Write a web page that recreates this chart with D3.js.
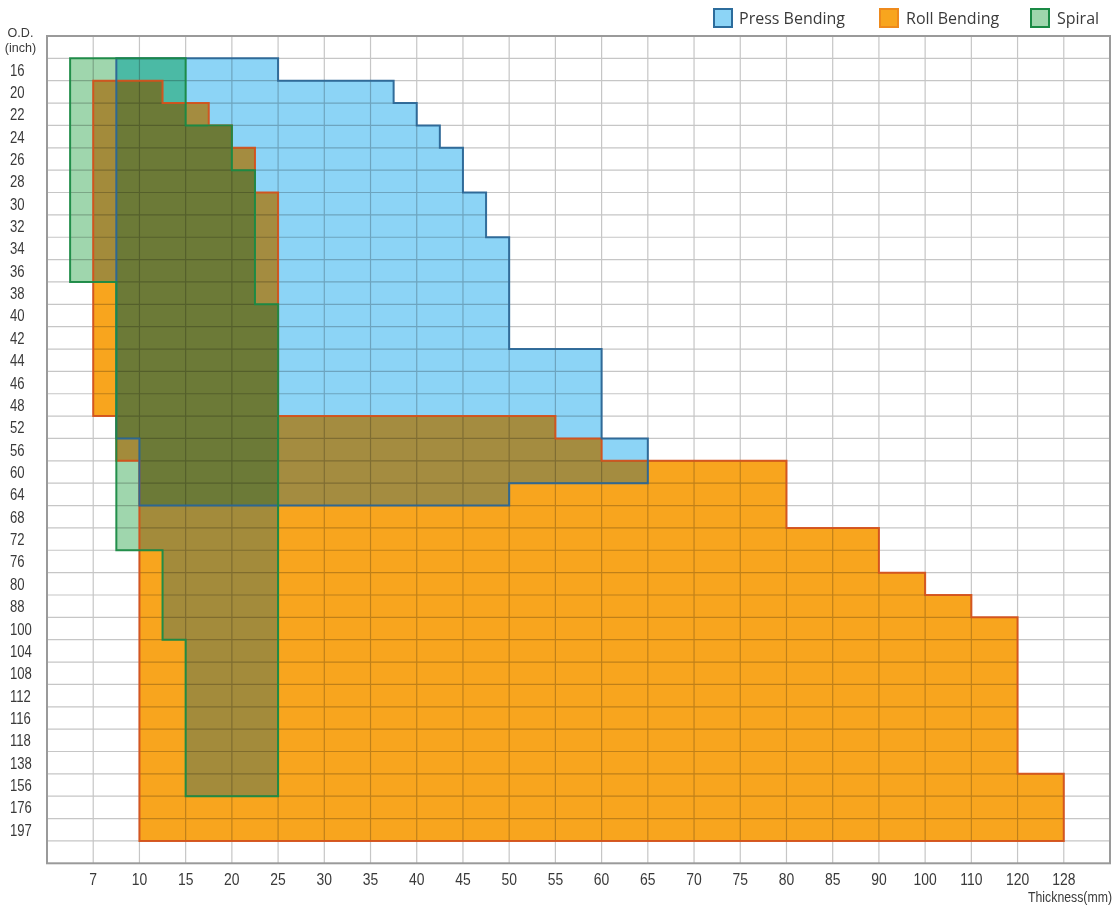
<!DOCTYPE html>
<html><head><meta charset="utf-8">
<script src="https://cdn.jsdelivr.net/npm/d3@7/dist/d3.min.js"></script>
<style>
body{margin:0;background:#fff}
svg{display:block}
.gridl{mix-blend-mode:multiply}
.ax{font-family:"Liberation Sans",Arial,sans-serif;fill:#3a3a3a}
.lg{font-family:"Open Sans",sans-serif;fill:#3a3a3a;font-size:16px}
</style></head><body>
<svg id="c" width="1119" height="906"></svg>
<script>
// ---- data ----
const odLabels = ["16","20","22","24","26","28","30","32","34","36","38","40","42","44","46","48","52","56","60","64","68","72","76","80","88","100","104","108","112","116","118","138","156","176","197"];
const thicknessTicks = [7,10,15,20,25,30,35,40,45,50,55,60,65,70,75,80,85,90,100,110,120,128];
const seriesNames = ["Press Bending","Roll Bending","Spiral"];
// [O.D., min thickness, max thickness]
const pressBending = [
  ["16",8.5,25],["20",8.5,37.5],["22",8.5,40],["24",8.5,42.5],["26",8.5,45],["28",8.5,45],
  ["30",8.5,47.5],["32",8.5,47.5],["34",8.5,50],["36",8.5,50],["38",8.5,50],["40",8.5,50],
  ["42",8.5,50],["44",8.5,60],["46",8.5,60],["48",8.5,60],["52",8.5,60],["56",10,65],
  ["60",10,65],["64",10,50]
];
const rollBending = [
  ["20",7,12.5],["22",7,17.5],["24",7,20],["26",7,22.5],["28",7,22.5],["30",7,25],["32",7,25],
  ["34",7,25],["36",7,25],["38",7,25],["40",7,25],["42",7,25],["44",7,25],["46",7,25],["48",7,25],
  ["52",8.5,55],["56",8.5,60],["60",10,80],["64",10,80],["68",10,80],["72",10,90],["76",10,90],
  ["80",10,100],["88",10,110],["100",10,120],["104",10,120],["108",10,120],["112",10,120],
  ["116",10,120],["118",10,120],["138",10,120],["156",10,128],["176",10,128],["197",10,128]
];
const spiral = [
  ["16",5.5,15],["20",5.5,15],["22",5.5,15],["24",5.5,20],["26",5.5,20],["28",5.5,22.5],
  ["30",5.5,22.5],["32",5.5,22.5],["34",5.5,22.5],["36",5.5,22.5],["38",8.5,22.5],["40",8.5,25],
  ["42",8.5,25],["44",8.5,25],["46",8.5,25],["48",8.5,25],["52",8.5,25],["56",8.5,25],["60",8.5,25],
  ["64",8.5,25],["68",8.5,25],["72",8.5,25],["76",12.5,25],["80",12.5,25],["88",12.5,25],
  ["100",12.5,25],["104",15,25],["108",15,25],["112",15,25],["116",15,25],["118",15,25],
  ["138",15,25],["156",15,25]
];
const fills = ["#8cd4f6","#f8a51e","#9fd6ad"];
const strokes = ["#2a6696","#d4521c","#1a8a45"];
const legendStrokes = ["#2c6c9c","#ee8a1c","#1a8a45"];
const overlapFills = {pressRoll:"#a48c40", rollSpiral:"#a38b3b", pressSpiral:"#4bbaa5", all:"#6c7a37"};

// ---- layout ----
const L=47, R=1110, T=36, B=863.3;
const xDomain=[4].concat(thicknessTicks,[136]);
const colW=(R-L)/(xDomain.length-1);
const x=d3.scaleLinear().domain(xDomain).range(xDomain.map((d,i)=>L+i*colW));
const rowH=(B-T)/(odLabels.length+2);
const y=d3.scaleBand().domain(odLabels).range([T+rowH,B-rowH]).padding(0);
const bw=y.bandwidth();

const svg=d3.select("#c");
const g=svg.append("g");

// helpers
function runs(rows){
  const out=[];let cur=[];let prev=-2;
  rows.forEach(r=>{const i=odLabels.indexOf(r[0]);if(i!==prev+1&&cur.length){out.push(cur);cur=[];}cur.push(r);prev=i;});
  if(cur.length)out.push(cur);
  return out;
}
function outline(rows){
  const pts=[];
  rows.forEach(r=>{const y0=y(r[0]);pts.push([x(r[2]),y0],[x(r[2]),y0+bw]);});
  for(let i=rows.length-1;i>=0;i--){const r=rows[i];const y0=y(r[0]);pts.push([x(r[1]),y0+bw],[x(r[1]),y0]);}
  return d3.line()(pts)+"Z";
}
function pathOf(rows){return runs(rows).map(outline).join("");}
function intersect(a,b){
  const mb=new Map(b.map(r=>[r[0],r]));const out=[];
  a.forEach(r=>{const s=mb.get(r[0]);if(!s)return;const lo=Math.max(r[1],s[1]),hi=Math.min(r[2],s[2]);if(lo<hi)out.push([r[0],lo,hi]);});
  return out;
}

// fills
const series=[pressBending,rollBending,spiral];
[1,0,2].forEach(i=>g.append("path").attr("d",pathOf(series[i])).attr("fill",fills[i]));
g.append("path").attr("d",pathOf(intersect(rollBending,pressBending))).attr("fill",overlapFills.pressRoll);
g.append("path").attr("d",pathOf(intersect(rollBending,spiral))).attr("fill",overlapFills.rollSpiral);
g.append("path").attr("d",pathOf(intersect(pressBending,spiral))).attr("fill",overlapFills.pressSpiral);
g.append("path").attr("d",pathOf(intersect(intersect(rollBending,pressBending),spiral))).attr("fill",overlapFills.all);

// grid (multiplied over fills)
const grid=g.append("g").attr("class","gridl").attr("stroke","#c6c6c6").attr("stroke-width",1.2);
thicknessTicks.forEach(t=>grid.append("line").attr("x1",x(t)).attr("x2",x(t)).attr("y1",T).attr("y2",B));
odLabels.forEach(o=>grid.append("line").attr("x1",L).attr("x2",R).attr("y1",y(o)).attr("y2",y(o)));
const lastY=y(odLabels[odLabels.length-1])+bw;
grid.append("line").attr("x1",L).attr("x2",R).attr("y1",lastY).attr("y2",lastY);

// outlines
[1,0,2].forEach(i=>g.append("path").attr("d",pathOf(series[i])).attr("fill","none")
  .attr("stroke",strokes[i]).attr("stroke-width",2).attr("stroke-linejoin","miter").attr("stroke-opacity",0.95));

// frame
g.append("rect").attr("x",L).attr("y",T).attr("width",R-L).attr("height",B-T)
 .attr("fill","none").attr("stroke","#9a9a9a").attr("stroke-width",2);

// axes labels (condensed)
function ctext(px,py,txt,size,anchor,sx){
  g.append("text").attr("class","ax").attr("transform",`translate(${px},${py}) scale(${sx||0.82},1)`)
   .attr("font-size",size).attr("text-anchor",anchor||"start").text(txt);
}
odLabels.forEach(o=>ctext(10,y(o)+bw/2+6,o,16,"start"));
thicknessTicks.forEach(t=>ctext(x(t),885,t,17,"middle"));
ctext(20.5,36.5,"O.D.",13.5,"middle",0.93);
ctext(20.5,51.5,"(inch)",13.5,"middle",0.93);
ctext(1112,902,"Thickness(mm)",15,"end");

// legend
const legX=[714,880,1031], legT=[739,906,1057];
seriesNames.forEach((n,i)=>{
  g.append("rect").attr("x",legX[i]).attr("y",9).attr("width",18).attr("height",18)
   .attr("fill",fills[i]).attr("stroke",legendStrokes[i]).attr("stroke-width",2);
  g.append("text").attr("class","lg").attr("x",legT[i]).attr("y",24).text(n);
});
</script>
</body></html>
